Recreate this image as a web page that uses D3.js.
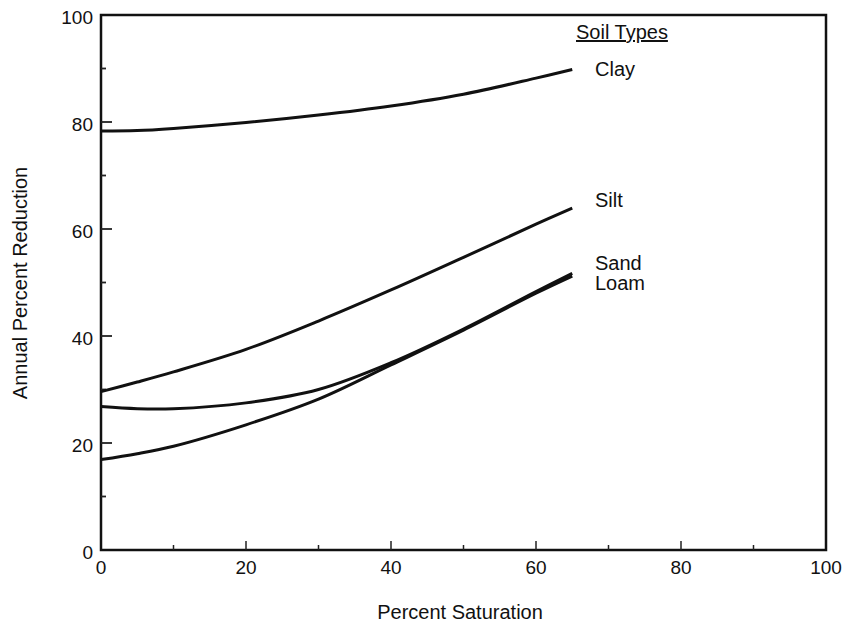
<!DOCTYPE html>
<html>
<head>
<meta charset="utf-8">
<script src="https://cdn.jsdelivr.net/npm/d3@7"></script>
<style>
  body { margin: 0; background: #fff; }
  text { font-family: "Liberation Sans", Arial, sans-serif; fill: #111; }
</style>
</head>
<body>
<svg id="chart" width="842" height="627"></svg>
<script>
// values
const saturation = [0, 5, 10, 20, 30, 40, 50, 60, 65];
const clay = [78.3, 78.4, 78.8, 79.9, 81.3, 83.0, 85.2, 88.2, 89.8];
const silt = [29.6, 31.4, 33.3, 37.5, 42.8, 48.6, 54.7, 60.9, 63.9];
const sand = [26.8, 26.4, 26.4, 27.5, 30.0, 35.0, 41.3, 48.3, 51.7];
const loam = [16.9, 18.0, 19.4, 23.4, 28.2, 34.6, 41.1, 48.0, 51.2];
const soilNames = ["Clay", "Silt", "Sand", "Loam"];
const xTicks = [0, 20, 40, 60, 80, 100];
const yTicks = [0, 20, 40, 60, 80, 100];

const series = [clay, silt, sand, loam];

const svg = d3.select("#chart");
const margin = {left: 101, right: 16, top: 15, bottom: 77};
const W = 842, H = 627;

const x = d3.scaleLinear().domain([0, 100]).range([margin.left, W - margin.right]);
const y = d3.scaleLinear().domain([0, 100]).range([H - margin.bottom, margin.top]);

// frame
svg.append("rect")
    .attr("x", x(0)).attr("y", y(100))
    .attr("width", x(100) - x(0)).attr("height", y(0) - y(100))
    .attr("fill", "none").attr("stroke", "#111").attr("stroke-width", 2.5);

// inward ticks, long at labelled values
const tickVals = d3.range(10, 100, 10);
svg.append("g").selectAll("line").data(tickVals).join("line")
    .attr("x1", d => x(d)).attr("x2", d => x(d))
    .attr("y1", y(0)).attr("y2", d => y(0) - (d % 20 === 0 ? 9 : 5))
    .attr("stroke", "#222").attr("stroke-width", 1.5);
svg.append("g").selectAll("line").data(tickVals).join("line")
    .attr("y1", d => y(d)).attr("y2", d => y(d))
    .attr("x1", x(0)).attr("x2", d => x(0) + (d % 20 === 0 ? 11 : 5))
    .attr("stroke", "#222").attr("stroke-width", 1.8);

// tick labels
svg.append("g").selectAll("text").data(xTicks).join("text")
    .attr("x", d => x(d)).attr("y", y(0) + 24)
    .attr("text-anchor", "middle").attr("font-size", 19)
    .text(d => d);
svg.append("g").selectAll("text").data(yTicks).join("text")
    .attr("x", x(0) - 8).attr("y", d => y(d) + 9)
    .attr("text-anchor", "end").attr("font-size", 19)
    .text(d => d);

// axis titles
svg.append("text")
    .attr("x", 460).attr("y", 619)
    .attr("text-anchor", "middle").attr("font-size", 20)
    .text("Percent Saturation");
svg.append("text")
    .attr("transform", "translate(27,283) rotate(-90)")
    .attr("text-anchor", "middle").attr("font-size", 20)
    .text("Annual Percent Reduction");

// curves
const line = d3.line()
    .x((d, i) => x(saturation[i]))
    .y(d => y(d))
    .curve(d3.curveCatmullRom.alpha(0.5));

svg.append("g").selectAll("path").data(series).join("path")
    .attr("d", d => line(d))
    .attr("fill", "none").attr("stroke", "#111").attr("stroke-width", 3);

// legend labels
svg.append("text")
    .attr("x", 576).attr("y", 39).attr("font-size", 20)
    .attr("text-decoration", "underline")
    .text("Soil Types");
const labelY = [76, 207, 270, 290];
svg.append("g").selectAll("text").data(soilNames).join("text")
    .attr("x", 595).attr("y", (d, i) => labelY[i])
    .attr("font-size", 20)
    .text(d => d);
</script>
</body>
</html>
